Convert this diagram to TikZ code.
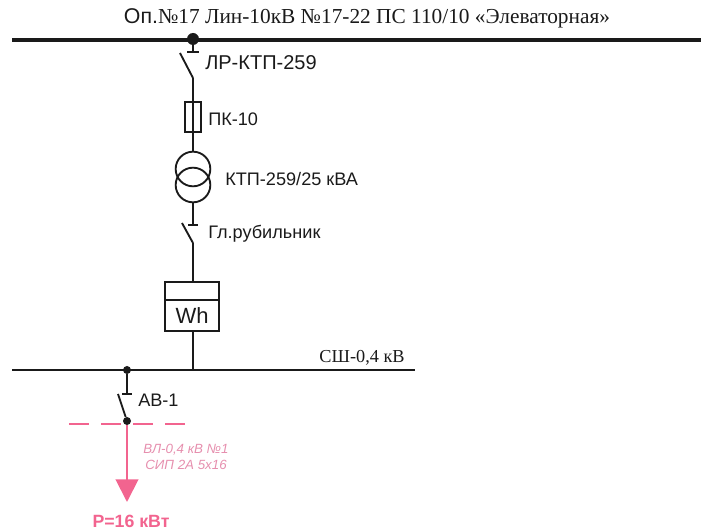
\documentclass[tikz,border=0pt]{standalone}
\usepackage{fontspec}
\setmainfont{Liberation Serif}
\setsansfont{Liberation Sans}
\usetikzlibrary{arrows.meta,positioning}
\definecolor{linecol}{HTML}{1A1A1A}
\definecolor{cablecol}{HTML}{F2648F}
\definecolor{cablelabel}{HTML}{E68FAE}
\begin{document}
\begin{tikzpicture}[
        x=0.75pt,
        y=-0.75pt,
        wire/.style={
            draw=linecol,
            line width=1.4pt
        },
        bus/.style={
            draw=linecol,
            line width=1.4pt
        },
        joint/.style={
            circle,
            fill=linecol,
            inner sep=0pt,
            minimum size=5.5pt
        },
        app/.style={
            draw=linecol,
            line width=1.4pt,
            inner sep=0pt
        },
        winding/.style={
            app,
            circle,
            minimum size=26pt
        },
        lab/.style={
            font=\sffamily\fontsize{13.6}{15}\selectfont,
            text=linecol,
            inner sep=0pt,
            anchor=west
        },
        cable/.style={
            draw=cablecol,
            line width=1.5pt
        }
    ]
    \useasboundingbox (0,0) rectangle (701,531);
    \node[font=\fontsize{16}{18}\selectfont, text=linecol, inner sep=0pt] (title) at (367,18) {{\sffamily Оп.}№17 Лин-10кВ №17-22 ПС 110/10 «Элеваторная»};

    % upper bus
    \coordinate (busa) at (12,40);
    \coordinate (busb) at (701,40);
    \draw[bus, line width=3pt] (busa) -- (busb);
    \node[joint, minimum size=9pt] (tap) at (193,39) {};

    % line disconnector
    \coordinate (lrfix) at (193,52);
    \coordinate (lrl) at (187,52);
    \coordinate (lrr) at (199,52);
    \coordinate (lrfree) at (180,53);
    \coordinate (lrpin) at (193,78);
    \draw[wire] (tap) -- (lrfix);
    \draw[wire] (lrl) -- (lrr);
    \draw[wire] (lrfree) -- (lrpin);
    \node[lab, font=\sffamily\fontsize{15}{17}\selectfont] (lrlab) at (205,63) {ЛР-КТП-259};

    % fuse
    \node[app, minimum width=12.5pt, minimum height=22pt] (fuse) at (193,117) {};
    \draw[wire] (lrpin) -- (fuse.north);
    \node[lab] (fuselab) at (208,119) {ПК-10};
    \draw[wire] (fuse.north) -- (fuse.south);

    % transformer
    \node[winding] (trup) at (193,169) {};
    \node[winding] (trlo) at (193,185) {};
    \draw[wire] (fuse.south) -- (trup.north);
    \node[lab] (trlab) at (225,179) {КТП-259/25 кВА};

    % main switch
    \coordinate (glfix) at (193,225);
    \coordinate (gll) at (188,225);
    \coordinate (glr) at (198,225);
    \coordinate (glfree) at (182,223);
    \coordinate (glpin) at (193,243);
    \draw[wire] (trlo.south) -- (glfix);
    \draw[wire] (gll) -- (glr);
    \draw[wire] (glfree) -- (glpin);
    \node[lab] (gllab) at (208,234) {Гл.рубильник};

    % meter
    \node[app, minimum width=40pt, minimum height=13.5pt] (metertop) at (192,291) {};
    \node[app, minimum width=40pt, minimum height=23pt, below=-1pt of metertop, font=\sffamily\fontsize{16.5}{18}\selectfont, text=linecol] (meter) {Wh};
    \draw[wire] (glpin) -- (glpin |- metertop.north);

    % lower bus
    \coordinate (lowa) at (12,370);
    \coordinate (lowb) at (415,370);
    \coordinate (lowtap) at (193,370);
    \draw[bus] (lowa) -- (lowb);
    \draw[wire] (lowtap |- meter.south) -- (lowtap);
    \node[font=\fontsize{13.7}{15}\selectfont, text=linecol, inner sep=0pt] (lowlab) at (362,358) {СШ-0,4 кВ};

    % feeder
    \node[joint, minimum size=6pt] (feedtap) at (127,370) {};
    \coordinate (avfix) at (127,394);
    \coordinate (avl) at (122,394);
    \coordinate (avr) at (132,394);
    \coordinate (avfree) at (118,394);
    \node[joint, minimum size=6pt] (avpin) at (127,421) {};
    \draw[wire] (feedtap) -- (avfix);
    \draw[wire] (avl) -- (avr);
    \draw[wire] (avfree) -- (avpin);
    \node[lab] (avlab) at (138,400) {АВ-1};

    % cable line
    \coordinate (cuta) at (69,424);
    \coordinate (cutb) at (189,424);
    \draw[cable, dash pattern=on 15pt off 9pt] (cuta) -- (cutb);
    \node[inner sep=0pt, font=\sffamily\fontsize{13.3}{15}\selectfont, text=cablecol] (load) at (131,521) {\bfseries Р=16 кВт};
    \coordinate (tip) at (127,502);
    \draw[cable, -{Triangle[length=17pt, width=17pt]}] (avpin) -- (tip);
    \node[inner sep=0pt, align=center, font=\sffamily\itshape\fontsize{10}{12}\selectfont, text=cablelabel] (cablab) at (186,457) {ВЛ-0,4 кВ №1\\СИП 2А 5х16};
\end{tikzpicture}
\end{document}
